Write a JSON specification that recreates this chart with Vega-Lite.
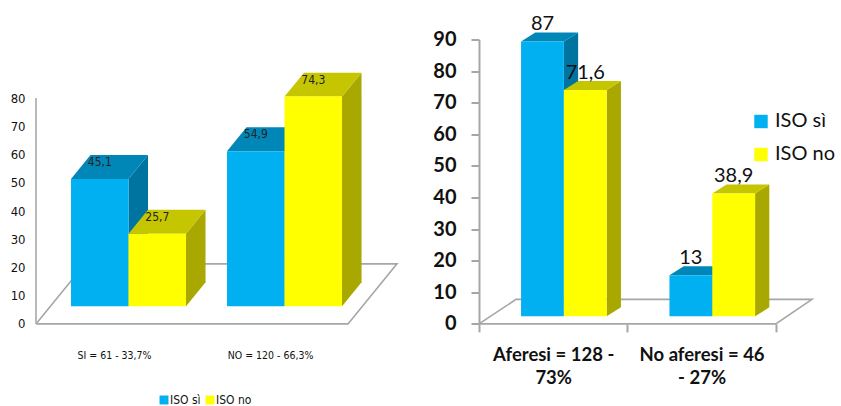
{
"$schema":"https://vega.github.io/schema/vega-lite/v6.json",
"background":"white",
"padding":{"left":10,"top":13.5,"right":0,"bottom":0},
"spacing":31,
"resolve":{"scale":{"color":"independent"}},
"config":{"view":{"stroke":null},"axis":{"grid":false,"title":null}},
"hconcat":[
{
"width":361,"height":284.4,
"data":{"values":[
{"categoria":"SI = 61 - 33,7%","gruppo":0,"serie":"ISO sì","valore":45.1},
{"categoria":"SI = 61 - 33,7%","gruppo":0,"serie":"ISO no","valore":25.7},
{"categoria":"NO = 120 - 66,3%","gruppo":1,"serie":"ISO sì","valore":54.9},
{"categoria":"NO = 120 - 66,3%","gruppo":1,"serie":"ISO no","valore":74.3}
]},
"transform":[
{"calculate":"datum.gruppo+0.2244+(datum.serie=='ISO no'?0.3686:0)","as":"x0"},
{"calculate":"datum.x0+0.3686","as":"x1"},
{"calculate":"6.3","as":"base"},
{"calculate":"datum.base+datum.valore","as":"top"},
{"calculate":"(datum.x0+datum.x1)/2","as":"xc"},
{"calculate":"replace(toString(datum.valore),'.',',')","as":"etichetta"},
{"calculate":"datum.top+6","as":"ytext"},
{"calculate":"[0,1]","as":"k"}
],
"layer":[
{"data":{"values":[{"i":0,"a":0,"b":0},{"i":1,"a":2,"b":0},{"i":2,"a":2.314,"b":21.3},{"i":3,"a":0.314,"b":21.3},{"i":4,"a":0,"b":0}]},
"transform":[],
"mark":{"type":"line","stroke":"#A6A6A6","strokeWidth":1.6},
"encoding":{
"x":{"field":"a","type":"quantitative","title":null,"scale":{"domain":[0,2.314],"nice":false},
"axis":{"values":[0.5,1.5],"tickCount":20,"labelExpr":"datum.value==0.5?'SI = 61 - 33,7%':'NO = 120 - 66,3%'","domain":false,"ticks":false,"grid":false,"labelFont":"DejaVu Sans Condensed","labelFontSize":10.5,"labelColor":"#111","labelPadding":27,"labelOverlap":false,"labelBound":false,"labelFlush":false}},
"y":{"field":"b","type":"quantitative","title":null,"scale":{"domain":[0,100.85],"nice":false},
"axis":{"values":[0,10,20,30,40,50,60,70,80],"tickCount":20,"domain":false,"ticks":false,"grid":false,"labelFont":"DejaVu Sans Condensed","labelFontSize":13,"labelColor":"#111","labelPadding":11,"labelOverlap":false}},
"order":{"field":"i","type":"quantitative"}}},
{"mark":{"type":"rule","stroke":"#B5B5B5","strokeWidth":1},
"encoding":{"x":{"datum":0,"type":"quantitative","title":null,"scale":{"domain":[0,2.314],"nice":false}},"y":{"datum":0,"type":"quantitative","title":null,"scale":{"domain":[0,100.85],"nice":false}},"y2":{"datum":80}}},
{"transform":[{"flatten":["k"]},{"calculate":"datum.x1+datum.k*0.125","as":"sx"},{"calculate":"datum.top+datum.k*8.5","as":"sy"},{"calculate":"datum.base+datum.k*8.5","as":"sy2"}],
"mark":{"type":"area"},
"encoding":{"x":{"field":"sx","type":"quantitative","title":null,"scale":{"domain":[0,2.314],"nice":false}},"y":{"field":"sy","type":"quantitative","title":null,"scale":{"domain":[0,100.85],"nice":false}},"y2":{"field":"sy2"},
"detail":[{"field":"categoria"},{"field":"serie"}],
"fill":{"condition":{"test":"datum.serie=='ISO sì'","value":"#0074A0"},"value":"#A8A800"}}},
{"transform":[{"flatten":["k"]},{"calculate":"datum.x0+datum.k*0.125","as":"tx0"},{"calculate":"datum.x1+datum.k*0.125","as":"tx1"},{"calculate":"datum.top+datum.k*8.5","as":"ty"}],
"mark":{"type":"area","orient":"horizontal"},
"encoding":{"y":{"field":"ty","type":"quantitative","title":null,"scale":{"domain":[0,100.85],"nice":false}},"x":{"field":"tx0","type":"quantitative","title":null,"scale":{"domain":[0,2.314],"nice":false}},"x2":{"field":"tx1"},
"detail":[{"field":"categoria"},{"field":"serie"}],
"fill":{"condition":{"test":"datum.serie=='ISO sì'","value":"#0087B8"},"value":"#C6C600"}}},
{"mark":{"type":"bar"},
"encoding":{"x":{"field":"x0","type":"quantitative","title":null,"scale":{"domain":[0,2.314],"nice":false}},"x2":{"field":"x1"},"y":{"field":"top","type":"quantitative","title":null,"scale":{"domain":[0,100.85],"nice":false}},"y2":{"field":"base"},
"color":{"field":"serie","type":"nominal","scale":{"domain":["ISO sì","ISO no"],"range":["#00B0F0","#FFFF00"]},
"legend":{"title":null,"orient":"none","legendX":122,"legendY":354.5,"direction":"horizontal","columns":2,"symbolType":"square","symbolSize":80,"symbolStrokeWidth":0,"symbolOpacity":1,"labelFont":"DejaVu Sans Condensed","labelFontSize":12,"labelColor":"#111","labelOffset":0,"columnPadding":3}}}},
{"mark":{"type":"text","font":"DejaVu Sans Condensed","fontSize":12,"baseline":"middle","color":"#222"},
"encoding":{"x":{"field":"xc","type":"quantitative","title":null,"scale":{"domain":[0,2.314],"nice":false}},"y":{"field":"ytext","type":"quantitative","title":null,"scale":{"domain":[0,100.85],"nice":false}},"text":{"field":"etichetta"}}}
]
},
{
"width":333,"height":284.4,
"data":{"values":[
{"categoria":"Aferesi = 128 - 73%","gruppo":0,"serie":"ISO sì","valore":87},
{"categoria":"Aferesi = 128 - 73%","gruppo":0,"serie":"ISO no","valore":71.6},
{"categoria":"No aferesi = 46 - 27%","gruppo":1,"serie":"ISO sì","valore":13},
{"categoria":"No aferesi = 46 - 27%","gruppo":1,"serie":"ISO no","valore":38.9}
]},
"transform":[
{"calculate":"datum.gruppo+0.2835+(datum.serie=='ISO no'?0.2885:0)","as":"x0"},
{"calculate":"datum.x0+0.2885","as":"x1"},
{"calculate":"2.4","as":"base"},
{"calculate":"datum.base+datum.valore","as":"top"},
{"calculate":"(datum.x0+datum.x1)/2","as":"xc"},
{"calculate":"replace(toString(datum.valore),'.',',')","as":"etichetta"},
{"calculate":"datum.top+5.5","as":"ytext"},
{"calculate":"[0,1]","as":"k"}
],
"layer":[
{"data":{"values":[{"i":0,"a":0,"b":0},{"i":1,"a":2,"b":0},{"i":2,"a":2.244,"b":7.75},{"i":3,"a":0.249,"b":7.75},{"i":4,"a":0,"b":0}]},
"transform":[],
"mark":{"type":"line","stroke":"#A6A6A6","strokeWidth":1.6},
"encoding":{
"x":{"field":"a","type":"quantitative","title":null,"scale":{"domain":[0,2.244],"nice":false},
"axis":{"values":[0,0.5,1,1.5,2],"tickCount":20,"labelExpr":"datum.value==0.5?['Aferesi = 128 -','73%']:datum.value==1.5?['No aferesi = 46','- 27%']:''","domain":false,"tickSize":8,"tickWidth":2,"tickColor":"#A6A6A6","tickOpacity":{"condition":{"test":"datum.value%1!=0","value":0},"value":1},"grid":false,"labelFont":"Lato","labelFontSize":18.5,"labelFontWeight":"bold","labelColor":"#111","labelPadding":14,"labelLineHeight":23,"labelOverlap":false,"labelBound":false,"labelFlush":false}},
"y":{"field":"b","type":"quantitative","title":null,"scale":{"domain":[0,90],"nice":false},
"axis":{"values":[0,10,20,30,40,50,60,70,80,90],"tickCount":20,"domainColor":"#A6A6A6","domainWidth":2,"tickSize":8,"tickWidth":2,"tickColor":"#A6A6A6","grid":false,"labelFont":"Lato","labelFontSize":20,"labelFontWeight":"bold","labelColor":"#111","labelPadding":15,"labelOverlap":false,"labelBound":false,"labelFlush":false}},
"order":{"field":"i","type":"quantitative"}}},
{"transform":[{"flatten":["k"]},{"calculate":"datum.x1+datum.k*0.096","as":"sx"},{"calculate":"datum.top+datum.k*2.85","as":"sy"},{"calculate":"datum.base+datum.k*2.85","as":"sy2"}],
"mark":{"type":"area"},
"encoding":{"x":{"field":"sx","type":"quantitative","title":null,"scale":{"domain":[0,2.244],"nice":false}},"y":{"field":"sy","type":"quantitative","title":null,"scale":{"domain":[0,90],"nice":false}},"y2":{"field":"sy2"},
"detail":[{"field":"categoria"},{"field":"serie"}],
"fill":{"condition":{"test":"datum.serie=='ISO sì'","value":"#0074A0"},"value":"#A8A800"}}},
{"transform":[{"flatten":["k"]},{"calculate":"datum.x0+datum.k*0.096","as":"tx0"},{"calculate":"datum.x1+datum.k*0.096","as":"tx1"},{"calculate":"datum.top+datum.k*2.85","as":"ty"}],
"mark":{"type":"area","orient":"horizontal"},
"encoding":{"y":{"field":"ty","type":"quantitative","title":null,"scale":{"domain":[0,90],"nice":false}},"x":{"field":"tx0","type":"quantitative","title":null,"scale":{"domain":[0,2.244],"nice":false}},"x2":{"field":"tx1"},
"detail":[{"field":"categoria"},{"field":"serie"}],
"fill":{"condition":{"test":"datum.serie=='ISO sì'","value":"#0087B8"},"value":"#C6C600"}}},
{"mark":{"type":"bar"},
"encoding":{"x":{"field":"x0","type":"quantitative","title":null,"scale":{"domain":[0,2.244],"nice":false}},"x2":{"field":"x1"},"y":{"field":"top","type":"quantitative","title":null,"scale":{"domain":[0,90],"nice":false}},"y2":{"field":"base"},
"color":{"field":"serie","type":"nominal","scale":{"domain":["ISO sì","ISO no"],"range":["#00B0F0","#FFFF00"]},
"legend":{"title":null,"orient":"none","legendX":272,"legendY":72,"direction":"vertical","symbolType":"square","symbolSize":180,"symbolStrokeWidth":0,"symbolOpacity":1,"labelFont":"Lato","labelFontSize":20,"labelColor":"#111","labelOffset":4,"rowPadding":13}}}},
{"mark":{"type":"text","font":"Lato","fontSize":20,"baseline":"middle","color":"#111"},
"encoding":{"x":{"field":"xc","type":"quantitative","title":null,"scale":{"domain":[0,2.244],"nice":false}},"y":{"field":"ytext","type":"quantitative","title":null,"scale":{"domain":[0,90],"nice":false}},"text":{"field":"etichetta"}}}
]
}
]
}
